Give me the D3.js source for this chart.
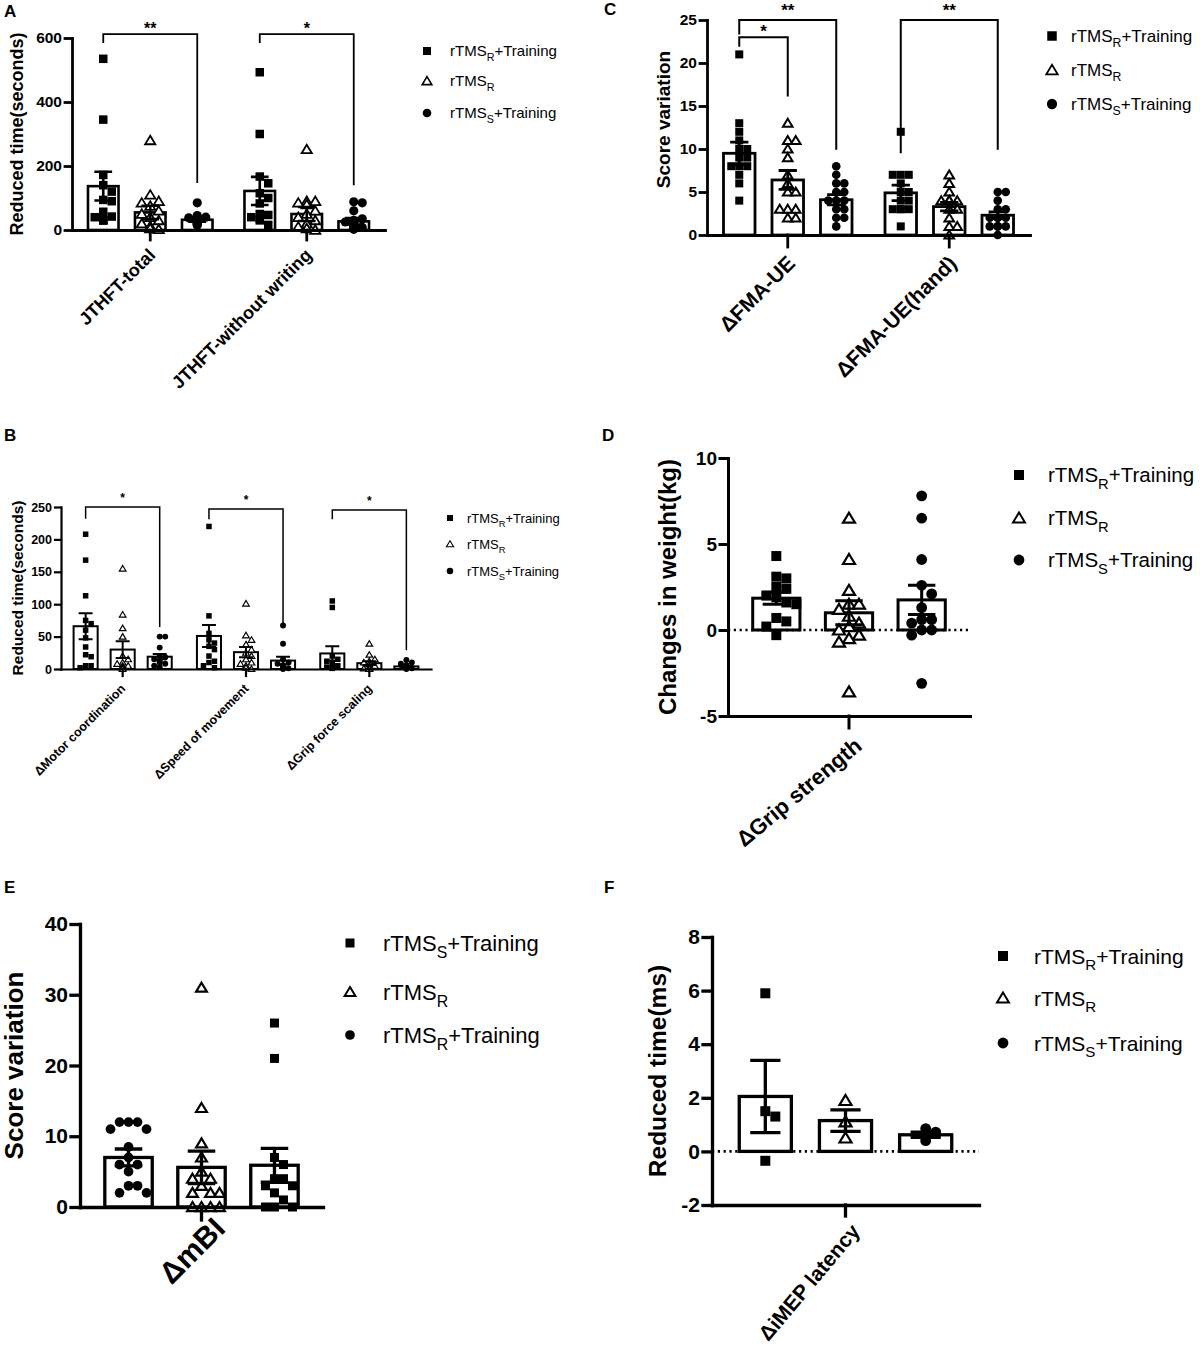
<!DOCTYPE html>
<html><head><meta charset="utf-8">
<script src="https://cdn.jsdelivr.net/npm/d3@7"></script>
<style>body{margin:0;background:#fff}svg{display:block}text{font-family:"Liberation Sans",Arial,Helvetica,sans-serif;fill:#000}</style>
</head><body>
<svg id="c" width="1200" height="1364"></svg>
<script>
// ---------------- DATA ----------------
const stdShapes = ["square", "triangle", "circle"];
const stdLegend = [["rTMS", "R", "+Training"], ["rTMS", "R", ""], ["rTMS", "S", "+Training"]];
const eBarShapes = ["circle", "triangle", "square"];
const eLegend = [["rTMS", "S", "+Training"], ["rTMS", "R", ""], ["rTMS", "R", "+Training"]];
const eLegShapes = ["square", "triangle", "circle"];

// Panel A
const aCategories = ["JTHFT-total", "JTHFT-without writing"];
const aTicks = [0, 200, 400, 600];
const aMeans = [[137, 55, 32], [122, 50, 27]];
const aSems = [[45, 21, 6], [44, 22, 10]];
const aPoints = [
  [[535, 345, 172, 140, 120, 94, 90, 57, 42, 40, 31, 30, 30],
   [280, 110, 90, 85, 75, 60, 50, 40, 30, 20, 12, 5, 2],
   [85, 45, 40, 38, 35, 32, 30, 28, 25, 22, 20, 18, 15]],
  [[493, 300, 167, 146, 115, 100, 83, 50, 47, 40, 36, 30, 16],
   [252, 90, 90, 85, 80, 60, 50, 40, 30, 20, 10, 5, 0],
   [88, 85, 60, 35, 30, 25, 20, 15, 12, 10, 8, 5, 2]]
];
const aBrackets = [
  {cat: 0, from: 0, to: 2, y: 612, l: 584, r: 147, label: "**", ly: 612},
  {cat: 1, from: 0, to: 2, y: 612, l: 584, r: 140, label: "*", ly: 612}
];

// Panel B
const bCategories = ["ΔMotor coordination", "ΔSpeed of movement", "ΔGrip force scaling"];
const bTicks = [0, 50, 100, 150, 200, 250];
const bMeans = [[66, 30, 19], [51, 26, 13], [24, 9, 4]];
const bSems = [[20, 13, 4], [17, 8, 6], [11, 3, 1]];
const bPoints = [
  [[208, 168, 113, 75, 70, 60, 48, 34, 22, 19, 5, 5, 2],
   [155, 84, 63, 50, 20, 15, 10, 8, 5, 5, 3, 2, 0],
   [50, 50, 33, 20, 18, 15, 12, 10, 8, 5, 3]],
  [[220, 82, 55, 45, 40, 35, 30, 20, 12, 10, 5, 2],
   [101, 52, 45, 38, 30, 25, 20, 15, 10, 8, 5, 2, 0],
   [67, 39, 15, 10, 8, 6, 5, 3, 2, 1, 0]],
  [[105, 95, 20, 15, 12, 8, 5, 3, 2, 1],
   [39, 22, 15, 12, 10, 8, 5, 3, 2, 1, 0, 0],
   [14, 10, 8, 6, 5, 4, 3, 2, 2, 1, 1, 0]]
];
const bBrackets = [
  {cat: 0, from: 0, to: 2, y: 250, l: 232, r: 65, label: "*", ly: 257},
  {cat: 1, from: 0, to: 2, y: 247, l: 231, r: 67, label: "*", ly: 254},
  {cat: 2, from: 0, to: 2, y: 245.5, l: 231, r: 29, label: "*", ly: 252.5}
];

// Panel C
const cCategories = ["ΔFMA-UE", "ΔFMA-UE(hand)"];
const cTicks = [0, 5, 10, 15, 20, 25];
const cMeans = [[9.5, 6.4, 4.1], [4.9, 3.3, 2.3]];
const cSems = [[1.3, 1.1, 0.6], [0.9, 0.5, 0.4]];
const cPoints = [
  [[21, 13, 12, 11, 10, 10, 9, 9, 8, 8, 8, 7, 6, 4],
   [13, 11, 11, 10, 9, 7, 6, 5, 5, 3, 3, 3, 2, 2],
   [8, 7, 6, 6, 5, 5, 4, 4, 4, 3, 3, 2, 2, 1]],
  [[12, 7, 7, 7, 6, 5, 5, 4, 4, 3, 3, 3, 3, 1],
   [7, 6, 5, 4, 4, 4, 4, 4, 3, 3, 2, 1, 1, 0],
   [5, 5, 4, 3, 3, 2, 2, 2, 2, 1, 1, 1, 1, 0]]
];
const cBrackets = [
  {cat: 0, from: 0, to: 2, y: 25, l: 23.3, r: 9.9, label: "**", ly: 25.5},
  {cat: 0, from: 0, to: 1, y: 23, l: 21.9, r: 16.1, label: "*", ly: 23},
  {cat: 1, from: 0, to: 2, y: 25, l: 9.5, r: 9.9, label: "**", ly: 25.5}
];

// Panel D
const dCategories = ["ΔGrip strength"];
const dTicks = [-5, 0, 5, 10];
const dMeans = [[1.85, 1.0, 1.75]];
const dSems = [[0.35, 0.7, 0.85]];
const dPoints = [[
  [4.3, 3.1, 3.0, 2.5, 2.4, 2.0, 1.9, 1.6, 1.5, 0.7, 0.5, 0.2, -0.3],
  [6.5, 4.1, 2.3, 1.5, 1.5, 1.2, 0.8, 0.4, 0.2, 0.0, -0.3, -0.5, -0.7, -3.6],
  [7.8, 6.5, 4.1, 2.6, 2.1, 1.3, 0.6, 0.6, 0.4, 0.0, 0.0, -0.3, -3.1]
]];

// Panel E
const eCategories = ["ΔmBI"];
const eTicks = [0, 10, 20, 30, 40];
const eMeans = [[7.0, 5.6, 5.9]];
const eSems = [[1.2, 2.3, 2.4]];
const ePoints = [[
  [12, 12, 12, 11, 11, 8.5, 7, 6, 6, 5, 3, 3, 2, 2],
  [31, 14, 9, 7, 5, 4, 4, 3, 2, 2, 2, 0, 0, 0, 0],
  [26, 21, 7, 6, 4, 4, 3, 3, 2, 1, 0, 0, 0]
]];

// Panel F
const fCategories = ["ΔiMEP latency"];
const fTicks = [-2, 0, 2, 4, 6, 8];
const fMeans = [[2.05, 1.15, 0.62]];
const fSems = [[1.35, 0.4, 0.1]];
const fPoints = [[
  [5.9, 1.5, 1.3, -0.35],
  [1.9, 1.1, 0.5],
  [0.85, 0.72, 0.4]
]];

// ---------------- DRAWING ----------------
const svg = d3.select("#c");

function marker(sel, shape, s, sw) {
  if (shape === "square") {
    sel.append("rect").attr("x", -s / 2).attr("y", -s / 2).attr("width", s).attr("height", s).attr("fill", "#000");
  } else if (shape === "circle") {
    sel.append("circle").attr("r", s * 0.54).attr("fill", "#000");
  } else {
    sel.append("path")
      .attr("d", `M0,${-s * 0.55}L${s * 0.6},${s * 0.45}L${-s * 0.6},${s * 0.45}Z`)
      .attr("fill", "#fff").attr("stroke", "#000").attr("stroke-width", sw).attr("stroke-linejoin", "miter");
  }
}

function swarm(vals, y, cx, s, half) {
  const placed = [];
  vals.slice().sort((a, b) => b - a).forEach(v => {
    const py = y(v);
    let px = cx;
    for (let k = 0; k < 16; k++) {
      const off = k === 0 ? 0 : (k % 2 ? 1 : -1) * Math.ceil(k / 2) * s;
      if (Math.abs(off) > half) break;
      const tx = cx + off;
      if (!placed.some(q => Math.abs(q.x - tx) < s * 0.95 && Math.abs(q.y - py) < s * 0.95)) { px = tx; break; }
    }
    placed.push({x: px, y: py});
  });
  return placed;
}

function drawPanel(c) {
  const g = svg.append("g");
  const y = d3.scaleLinear().domain(c.yDomain).range([c.yBottom, c.yTop]);
  const x0 = d3.scaleBand().domain(c.categories).range([c.xLeft, c.xRight]).padding(0);
  const x1 = d3.scaleBand().domain([0, 1, 2]).range([0, x0.bandwidth()]).paddingInner(0.35).paddingOuter(0.34);
  const bw = x1.bandwidth();
  const cxOf = (ci, si) => x0(c.categories[ci]) + x1(si) + bw / 2;

  g.append("text").attr("x", c.letterX).attr("y", c.letterY).attr("font-size", 17).attr("font-weight", "bold").text(c.letter);

  // bars
  c.categories.forEach((cat, ci) => {
    [0, 1, 2].forEach(si => {
      const m = c.means[ci][si];
      g.append("rect")
        .attr("x", cxOf(ci, si) - bw / 2).attr("y", Math.min(y(m), y(0)))
        .attr("width", bw).attr("height", Math.abs(y(m) - y(0)))
        .attr("fill", "#fff").attr("stroke", "#000").attr("stroke-width", c.barW);
    });
  });

  if (c.zeroLine) {
    g.append("line").attr("x1", c.xLeft).attr("x2", c.xRight).attr("y1", y(0)).attr("y2", y(0))
      .attr("stroke", "#000").attr("stroke-width", c.barW * 0.8).attr("stroke-dasharray", "2.2,3.6");
  }

  // points
  c.categories.forEach((cat, ci) => {
    [0, 1, 2].forEach(si => {
      const pts = swarm(c.points[ci][si], y, cxOf(ci, si), c.ms, bw / 2 - c.ms * 0.3);
      pts.forEach(p => {
        const mg = g.append("g").attr("transform", `translate(${p.x},${p.y})`);
        marker(mg, c.shapes[si], c.ms, c.triW);
      });
    });
  });

  // error bars (mean ± SEM)
  const capW = bw * 0.58;
  c.categories.forEach((cat, ci) => {
    [0, 1, 2].forEach(si => {
      const m = c.means[ci][si], e = c.sems[ci][si], cx = cxOf(ci, si);
      const lo = y(m - e), hi = y(m + e);
      g.append("path")
        .attr("d", `M${cx},${lo}V${hi}M${cx - capW / 2},${hi}H${cx + capW / 2}M${cx - capW / 2},${lo}H${cx + capW / 2}`)
        .attr("fill", "none").attr("stroke", "#000").attr("stroke-width", c.barW);
    });
  });

  // axes
  const yAx = g.append("g").attr("transform", `translate(${c.xLeft},0)`)
    .call(d3.axisLeft(y).tickValues(c.ticks).tickSize(c.yTick).tickSizeOuter(0).tickPadding(3).tickFormat(d => String(d)));
  const xAxisY = y(c.xAxisVal);
  const xAx = g.append("g").attr("transform", `translate(0,${xAxisY})`)
    .call(d3.axisBottom(x0).tickSize(c.xTick).tickSizeOuter(0).tickFormat(""));
  [yAx, xAx].forEach(a => {
    a.selectAll("path,line").attr("stroke", "#000").attr("stroke-width", c.axisW).attr("stroke-linecap", "square");
    a.selectAll("text").attr("font-size", c.tickFont).attr("font-weight", "bold").attr("fill", "#000")
      .attr("font-family", '"Liberation Sans",Arial,sans-serif');
  });

  // rotated category labels
  c.categories.forEach((cat) => {
    const cx = x0(cat) + x0.bandwidth() / 2;
    g.append("text")
      .attr("transform", `translate(${cx + c.xlabDx},${xAxisY + c.xlabDy}) rotate(${-(c.xlabAngle || 45)})`)
      .attr("text-anchor", "end").attr("dy", "0.72em")
      .attr("font-size", c.xlabFont).attr("font-weight", "bold").text(cat);
  });

  // y title
  const midY = (c.yBottom + c.yTop) / 2 + (c.titleShift || 0);
  g.append("text")
    .attr("transform", `translate(${c.titleX + c.titleFont * 0.36},${midY}) rotate(-90)`)
    .attr("text-anchor", "middle").attr("font-size", c.titleFont).attr("font-weight", "bold").text(c.title);

  // significance brackets
  (c.brackets || []).forEach(b => {
    const xa = cxOf(b.cat, b.from), xb = cxOf(b.cat, b.to);
    g.append("path").attr("d", `M${xa},${y(b.l)}V${y(b.y)}H${xb}V${y(b.r)}`)
      .attr("fill", "none").attr("stroke", "#000").attr("stroke-width", c.brW);
    g.append("text").attr("x", (xa + xb) / 2).attr("y", y(b.ly)).attr("text-anchor", "middle")
      .attr("font-size", c.brFont).attr("font-weight", "bold").text(b.label);
  });

  // legend
  c.legend.forEach((lab, i) => {
    const yy = c.legY[i];
    const mg = g.append("g").attr("transform", `translate(${c.legMx},${yy})`);
    marker(mg, c.legShapes[i], c.legMs, c.triW * 0.9);
    const t = g.append("text").attr("x", c.legTx).attr("y", yy + c.legFont * 0.36).attr("font-size", c.legFont);
    t.append("tspan").text(lab[0]);
    t.append("tspan").attr("font-size", c.legFont * 0.72).attr("dy", c.legFont * 0.3).text(lab[1]);
    if (lab[2]) t.append("tspan").attr("dy", -c.legFont * 0.3).text(lab[2]);
  });
}

drawPanel({
  letter: "A", letterX: 4, letterY: 17,
  categories: aCategories, ticks: aTicks, means: aMeans, sems: aSems, points: aPoints, brackets: aBrackets,
  shapes: stdShapes, legend: stdLegend, legShapes: stdShapes,
  yDomain: [0, 600], yBottom: 230, yTop: 38, xLeft: 72, xRight: 385, xAxisVal: 0, zeroLine: false,
  title: "Reduced time(seconds)", titleX: 17, titleFont: 18,
  tickFont: 15.5, yTick: 7, xTick: 10, axisW: 2.8, barW: 2.6, ms: 8.5, triW: 1.8,
  xlabFont: 18, xlabDx: -3, xlabDy: 17,
  legMx: 427, legTx: 450, legY: [51, 81, 113], legFont: 15, legMs: 8,
  brW: 1.8, brFont: 16
});

drawPanel({
  letter: "B", letterX: 4, letterY: 441,
  categories: bCategories, ticks: bTicks, means: bMeans, sems: bSems, points: bPoints, brackets: bBrackets,
  shapes: stdShapes, legend: stdLegend, legShapes: stdShapes,
  yDomain: [0, 250], yBottom: 669, yTop: 507, xLeft: 61, xRight: 431, xAxisVal: 0, zeroLine: false,
  title: "Reduced time(seconds)", titleX: 17, titleFont: 15.5,
  tickFont: 12.5, yTick: 6, xTick: 7, axisW: 2.2, barW: 2, ms: 5.5, triW: 1.2,
  xlabFont: 12.5, xlabDx: -3, xlabDy: 14,
  legMx: 450, legTx: 467, legY: [518, 544, 571], legFont: 13, legMs: 6,
  brW: 1.5, brFont: 12
});

drawPanel({
  letter: "C", letterX: 604, letterY: 15,
  categories: cCategories, ticks: cTicks, means: cMeans, sems: cSems, points: cPoints, brackets: cBrackets,
  shapes: stdShapes, legend: stdLegend, legShapes: stdShapes,
  yDomain: [0, 25], yBottom: 235, yTop: 20, xLeft: 707, xRight: 1030, xAxisVal: 0, zeroLine: false,
  title: "Score variation", titleX: 663, titleFont: 19, titleShift: -8,
  tickFont: 15.5, yTick: 7, xTick: 12, axisW: 2.8, barW: 2.8, ms: 8, triW: 2,
  xlabFont: 21, xlabDx: -2, xlabDy: 19,
  legMx: 1052, legTx: 1071, legY: [36, 70, 104], legFont: 17, legMs: 9.5,
  brW: 2, brFont: 17
});

drawPanel({
  letter: "D", letterX: 602, letterY: 441,
  categories: dCategories, ticks: dTicks, means: dMeans, sems: dSems, points: dPoints, brackets: [],
  shapes: stdShapes, legend: stdLegend, legShapes: stdShapes,
  yDomain: [-5, 10], yBottom: 716, yTop: 458, xLeft: 728, xRight: 970, xAxisVal: -5, zeroLine: true,
  title: "Changes in weight(kg)", titleX: 667, titleFont: 24,
  tickFont: 19, yTick: 8, xTick: 12, axisW: 3, barW: 3, ms: 10, triW: 2.2,
  xlabFont: 22, xlabDx: 4, xlabDy: 20, xlabAngle: 40,
  legMx: 1019, legTx: 1048, legY: [475, 518, 560], legFont: 20.5, legMs: 10,
  brW: 2, brFont: 17
});

drawPanel({
  letter: "E", letterX: 4, letterY: 893,
  categories: eCategories, ticks: eTicks, means: eMeans, sems: eSems, points: ePoints, brackets: [],
  shapes: eBarShapes, legend: eLegend, legShapes: eLegShapes,
  yDomain: [0, 40], yBottom: 1207, yTop: 924, xLeft: 80, xRight: 323, xAxisVal: 0, zeroLine: false,
  title: "Score variation", titleX: 14, titleFont: 26,
  tickFont: 21, yTick: 9, xTick: 13, axisW: 3.3, barW: 3.3, ms: 9, triW: 2.2,
  xlabFont: 30, xlabDx: 10, xlabDy: 8,
  legMx: 350, legTx: 383, legY: [943, 992, 1035], legFont: 22, legMs: 9,
  brW: 2, brFont: 17
});

drawPanel({
  letter: "F", letterX: 604, letterY: 893,
  categories: fCategories, ticks: fTicks, means: fMeans, sems: fSems, points: fPoints, brackets: [],
  shapes: stdShapes, legend: stdLegend, legShapes: stdShapes,
  yDomain: [-2, 8], yBottom: 1205, yTop: 937, xLeft: 712, xRight: 979, xAxisVal: -2, zeroLine: true,
  title: "Reduced time(ms)", titleX: 657, titleFont: 24.5,
  tickFont: 21, yTick: 9, xTick: 11, axisW: 3.3, barW: 3.3, ms: 10, triW: 2.2,
  xlabFont: 21, xlabDx: 4, xlabDy: 17, xlabAngle: 50,
  legMx: 1003, legTx: 1034, legY: [956, 998, 1043], legFont: 21, legMs: 10,
  brW: 2, brFont: 17
});
</script>
</body></html>
